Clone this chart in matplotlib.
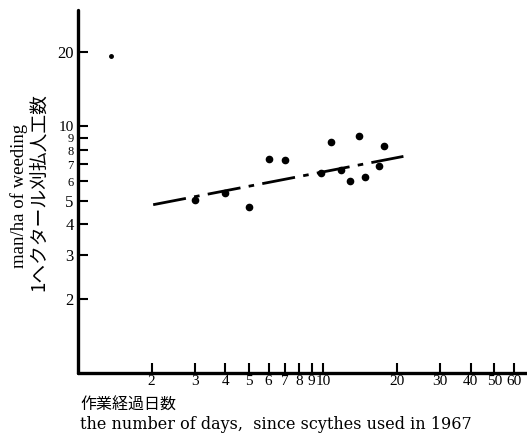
import matplotlib
matplotlib.use("Agg")
import matplotlib.pyplot as plt

# ---- data ----
days = [3, 4, 5, 6, 7, 9.8, 10.8, 11.9, 12.9, 14, 14.8, 16.9, 17.8]
man_ha = [5.03, 5.35, 4.69, 7.36, 7.27, 6.48, 8.61, 6.68, 6.01, 9.11, 6.20, 6.92, 8.32]
extra_days = [1.37]
extra_man_ha = [19.3]
fit_days = [2.03, 21.3]
fit_man_ha = [4.81, 7.55]

x_ticks = [2, 3, 4, 5, 6, 7, 8, 9, 10, 20, 30, 40, 50, 60]
x_tick_labels = ["2", "3", "4", "5", "6", "7", "8", "9", "10", "20", "30", "40", "50", "60"]
y_ticks = [2, 3, 4, 5, 6, 7, 8, 9, 10, 20]
y_tick_labels = ["2", "3", "4", "5", "6", "7", "8", "9", "10", "20"]

serif = ["Liberation Serif", "DejaVu Serif"]
wide_serif = ["DejaVu Serif"]
jp = ["Noto Sans CJK JP", "DejaVu Sans"]

W, H = 527, 436
fig = plt.figure(figsize=(W / 100, H / 100), dpi=100)
left_px, right_px, bottom_px, top_px = 77.8, 527, 373, 10
ax = fig.add_axes([left_px / W, (H - bottom_px) / H,
                   (right_px - left_px) / W, (bottom_px - top_px) / H])
ax.set_xscale("log")
ax.set_yscale("log")
ax.set_xlim(1, 68)
ax.set_ylim(1, 29.6)

for s in ["top", "right"]:
    ax.spines[s].set_visible(False)
for s in ["left", "bottom"]:
    ax.spines[s].set_linewidth(2.4)
    ax.spines[s].set_capstyle("round")

ax.minorticks_off()
ax.set_xticks(x_ticks)
ax.set_xticklabels(x_tick_labels, fontfamily=serif, fontsize=11)
ax.set_yticks(y_ticks)
ax.set_yticklabels(y_tick_labels, fontfamily=serif, fontsize=12)
ax.minorticks_off()
ax.tick_params(axis="both", direction="in", length=7, width=1.5, color="black")
ax.tick_params(axis="x", pad=1.5)
ax.tick_params(axis="y", pad=3)
for lab in ax.get_yticklabels():
    if lab.get_text() in ("6", "7", "8", "9"):
        lab.set_fontsize(9)
    elif lab.get_text() == "10":
        lab.set_fontsize(11)

ax.plot(fit_days, fit_man_ha, color="black", lw=2.0,
        linestyle=(0, (12, 3, 2, 3)), solid_capstyle="butt")
ax.plot(days, man_ha, "o", color="black", markersize=4.5)
ax.plot(extra_days, extra_man_ha, "o", color="black", markersize=2.5)

# axis titles
fig.text(19 / W, 1 - 196 / H, "man/ha of weeding", rotation=90,
         ha="center", va="center", fontfamily=serif, fontsize=13.5)
fig.text(39 / W, 1 - 192 / H, "1ヘクタール刈払人工数", rotation=90,
         ha="center", va="center", fontfamily=jp, fontsize=13.5)
fig.text(80 / W, 1 - 405 / H, "作業経過日数", ha="left", va="center",
         fontfamily=jp, fontsize=11.5)
fig.text(80 / W, 1 - 424 / H, "the number of days,  since scythes used in 1967",
         ha="left", va="center", fontfamily=wide_serif, fontsize=11.5)

fig.savefig("out.png", dpi=100)
